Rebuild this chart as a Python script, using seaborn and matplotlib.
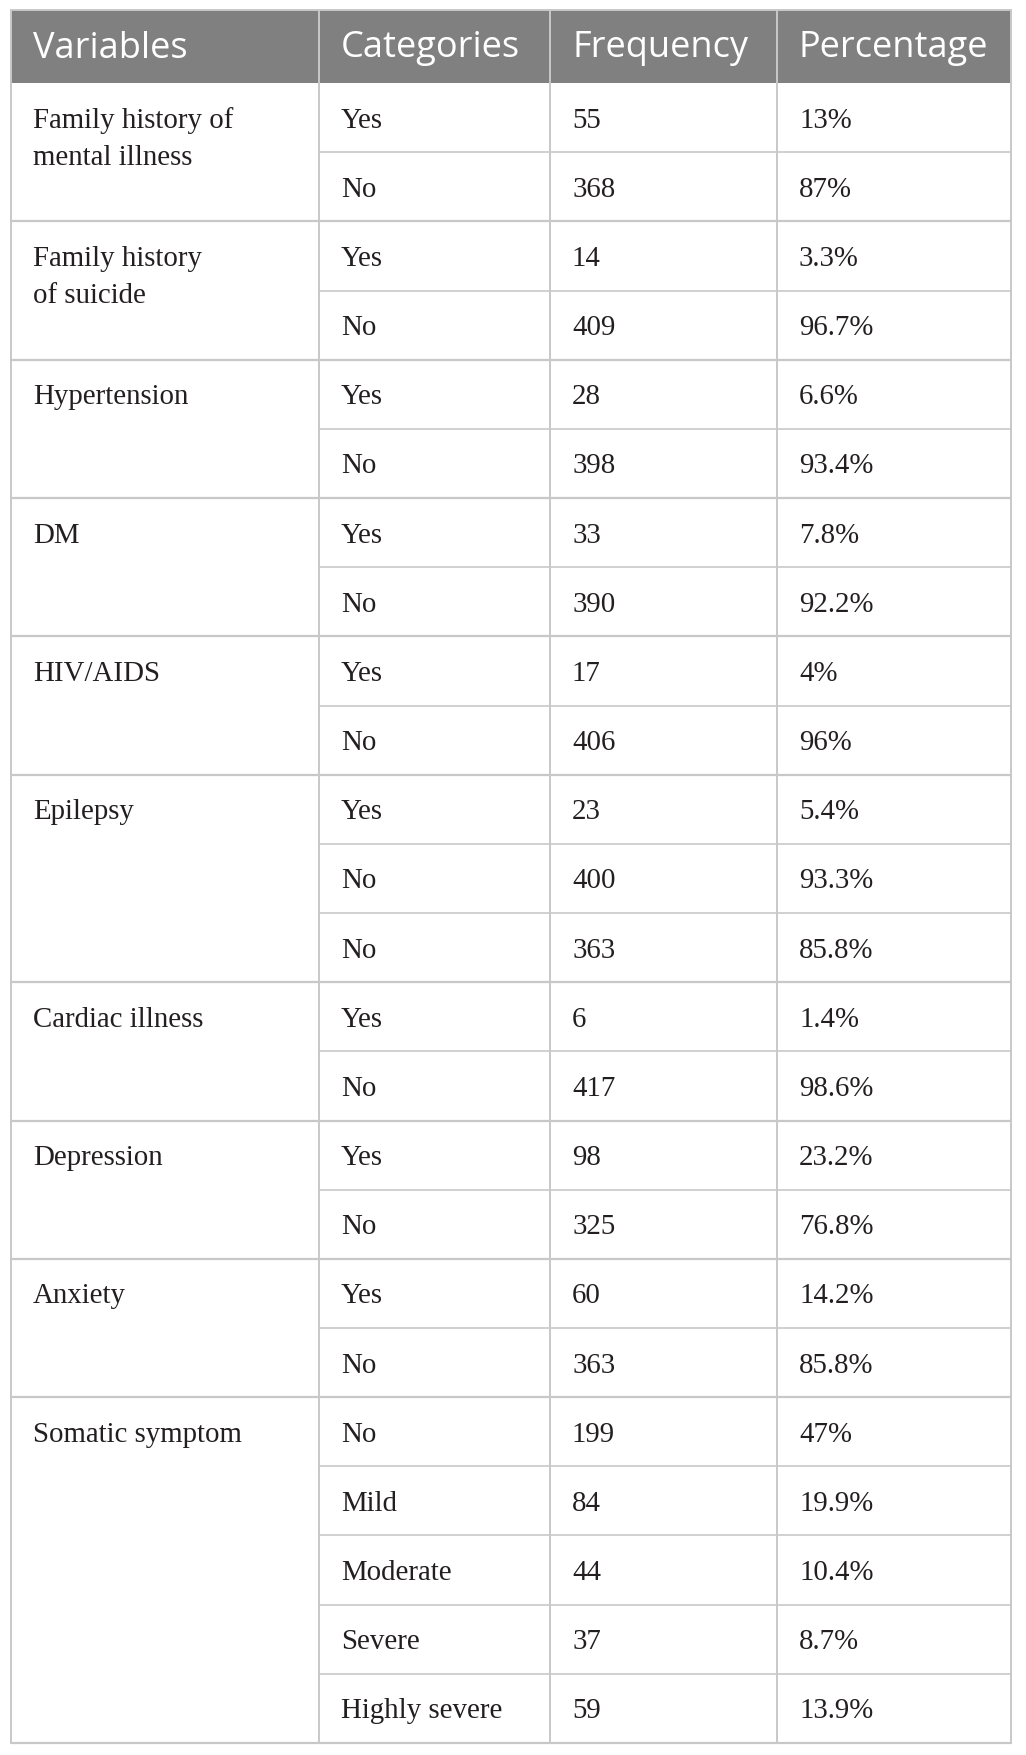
import matplotlib.pyplot as plt
import seaborn as sns

# table content
headers = ['Variables', 'Categories', 'Frequency', 'Percentage']
variables = ['Family history of\nmental illness', 'Family history\nof suicide', 'Hypertension', 'DM',
             'HIV/AIDS', 'Epilepsy', 'Cardiac illness', 'Depression', 'Anxiety', 'Somatic symptom']
group_sizes = [2, 2, 2, 2, 2, 3, 2, 2, 2, 5]
categories = ['Yes', 'No', 'Yes', 'No', 'Yes', 'No', 'Yes', 'No', 'Yes', 'No',
              'Yes', 'No', 'No', 'Yes', 'No', 'Yes', 'No', 'Yes', 'No',
              'No', 'Mild', 'Moderate', 'Severe', 'Highly severe']
frequencies = [55, 368, 14, 409, 28, 398, 33, 390, 17, 406,
               23, 400, 363, 6, 417, 98, 325, 60, 363,
               199, 84, 44, 37, 59]
percentages = ['13%', '87%', '3.3%', '96.7%', '6.6%', '93.4%', '7.8%', '92.2%', '4%', '96%',
               '5.4%', '93.3%', '85.8%', '1.4%', '98.6%', '23.2%', '76.8%', '14.2%', '85.8%',
               '47%', '19.9%', '10.4%', '8.7%', '13.9%']

sns.set_theme(style='white')

W, H = 1026, 1756
fig = plt.figure(figsize=(W / 100, H / 100), dpi=100)
ax = fig.add_axes([0, 0, 1, 1])
ax.set_xlim(0, W)
ax.set_ylim(H, 0)
ax.axis('off')

col_x = [11, 319, 550, 777, 1011]
top, head_bottom, bottom = 11, 84, 1744
n_rows = len(categories)
row_h = (bottom - head_bottom) / n_rows
pad = 22
line_col = '#c8c8c8'
txt_col = '#231f20'
serif = ['Liberation Serif', 'DejaVu Serif']
body_size = 20.8

# header band
ax.add_patch(plt.Rectangle((col_x[0], top), col_x[-1] - col_x[0], head_bottom - top,
                           color='#808080', lw=0, zorder=1))
for i, h in enumerate(headers):
    ax.text(col_x[i] + pad, (top + head_bottom) / 2 + 1, h, color='white',
            fontsize=26, family=['Open Sans', 'DejaVu Sans'], va='center', ha='left', zorder=3)

# body rows
for r in range(n_rows):
    yc = head_bottom + (r + 0.5) * row_h + 2
    vals = [categories[r], str(frequencies[r]), percentages[r]]
    for j, v in enumerate(vals):
        ax.text(col_x[j + 1] + pad, yc, v, color=txt_col, fontsize=body_size,
                family=serif, va='center', ha='left', zorder=3)

# variable names (top of each group) and horizontal lines
start = 0
for name, size in zip(variables, group_sizes):
    y0 = head_bottom + start * row_h
    for k, line in enumerate(name.split('\n')):
        ax.text(col_x[0] + pad, y0 + row_h / 2 + 2 + k * 37, line, color=txt_col,
                fontsize=body_size, family=serif, va='center', ha='left', zorder=3)
    for k in range(1, size):
        yl = y0 + k * row_h
        ax.plot([col_x[1], col_x[-1]], [yl, yl], color=line_col, lw=1.2, zorder=2)
    start += size
    yb = head_bottom + start * row_h
    ax.plot([col_x[0], col_x[-1]], [yb, yb], color=line_col, lw=1.6, zorder=2)

# vertical lines
for x in col_x:
    ax.plot([x, x], [top, bottom], color=line_col, lw=1.4, zorder=2)
ax.plot([col_x[0], col_x[-1]], [top, top], color=line_col, lw=1.4, zorder=2)

fig.savefig('out.png', dpi=100)
